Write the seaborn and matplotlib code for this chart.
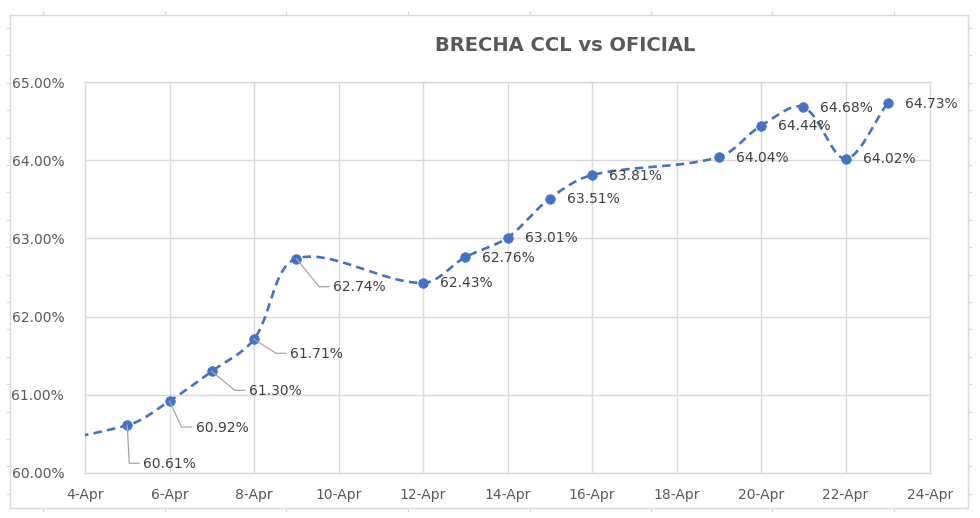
import numpy as np
import pandas as pd
import matplotlib
matplotlib.use("Agg")
import matplotlib.pyplot as plt
import matplotlib.dates as mdates
import seaborn as sns
from matplotlib.lines import Line2D

# ---------------- data ----------------
# first point (1-Apr) lies outside the visible range; the line enters from the left edge
dates = ["2021-04-01", "2021-04-05", "2021-04-06", "2021-04-07", "2021-04-08", "2021-04-09",
         "2021-04-12", "2021-04-13", "2021-04-14", "2021-04-15", "2021-04-16",
         "2021-04-19", "2021-04-20", "2021-04-21", "2021-04-22", "2021-04-23"]
values = [60.20, 60.61, 60.92, 61.30, 61.71, 62.74,
          62.43, 62.76, 63.01, 63.51, 63.81,
          64.04, 64.44, 64.68, 64.02, 64.73]
tick_dates = ["2021-04-04", "2021-04-06", "2021-04-08", "2021-04-10", "2021-04-12", "2021-04-14",
              "2021-04-16", "2021-04-18", "2021-04-20", "2021-04-22", "2021-04-24"]
tick_labels = ["4-Apr", "6-Apr", "8-Apr", "10-Apr", "12-Apr", "14-Apr",
               "16-Apr", "18-Apr", "20-Apr", "22-Apr", "24-Apr"]
y_ticks = [60, 61, 62, 63, 64, 65]
y_tick_labels = ["60.00%", "61.00%", "62.00%", "63.00%", "64.00%", "65.00%"]
title = "BRECHA CCL vs OFICIAL"

# label placement (pixel offsets of label left/center from point; dy positive downward)
label_offsets = {1: (16, 38, True), 2: (26, 26, True), 3: (37, 19, True),
                 4: (36, 14, True), 5: (37, 28, True)}
default_offset = (17, 0, False)

# ---------------- style ----------------
W, H, DPI = 980, 518, 100
LINE = "#4472C4"
GRID = "#D9D9D9"
TICKC = "#595959"
LABC = "#404040"

sns.set_theme(style="white")
plt.rcParams["font.family"] = ["DejaVu Sans"]

fig = plt.figure(figsize=(W / DPI, H / DPI), dpi=DPI)
fig.patch.set_facecolor("white")

# outer chart frame with sheet-grid tick marks
fr = fig.add_axes([10 / W, 10 / H, 958 / W, 493 / H])
fr.set_xlim(10, 968)
fr.set_ylim(508, 15)
fr.set_xticks([43, 165, 286, 408, 530, 651, 772, 894])
fr.set_yticks([28 + 27.4 * k for k in range(18)])
fr.tick_params(which="both", direction="out", length=3, width=0.8, color=GRID,
               top=True, bottom=True, left=True, right=True,
               labelleft=False, labelbottom=False)
for s in fr.spines.values():
    s.set_color(GRID)
    s.set_linewidth(1.0)
fr.set_facecolor("white")

# main plot area
L, R, T, B = 85, 930, 82, 473
ax = fig.add_axes([L / W, (H - B) / H, (R - L) / W, (B - T) / H])
ax.set_facecolor("none")

xnum = mdates.date2num(pd.to_datetime(dates))
yv = np.array(values)
xlim = mdates.date2num(pd.to_datetime(["2021-04-04", "2021-04-24"]))
ax.set_xlim(*xlim)
ax.set_ylim(60, 65)

# Excel-like smoothing in screen-proportional space
sx = (R - L) / (xlim[1] - xlim[0])
sy = (B - T) / 5.0


def excel_smooth(xn, yn, n=50):
    P = np.column_stack([xn * sx, yn * sy])
    out = []
    for i in range(len(P) - 1):
        p0 = P[i - 1] if i > 0 else P[i]
        p1, p2 = P[i], P[i + 1]
        p3 = P[i + 2] if i + 2 < len(P) else P[i + 1]
        d01 = np.linalg.norm(p1 - p0)
        d12 = np.linalg.norm(p2 - p1)
        d23 = np.linalg.norm(p3 - p2)
        c1 = p1 + (p2 - p0) * d12 / (3 * (d01 + d12))
        c2 = p2 - (p3 - p1) * d12 / (3 * (d12 + d23))
        t = np.linspace(0, 1, n)[:, None]
        seg = (1 - t) ** 3 * p1 + 3 * (1 - t) ** 2 * t * c1 + 3 * (1 - t) * t ** 2 * c2 + t ** 3 * p2
        out.append(seg if i == 0 else seg[1:])
    arr = np.vstack(out)
    return arr[:, 0] / sx, arr[:, 1] / sy


smx, smy = excel_smooth(xnum, yv)
smooth_df = pd.DataFrame({"x": smx, "y": smy})
sns.lineplot(data=smooth_df, x="x", y="y", sort=False, estimator=None, ax=ax,
             color=LINE, linewidth=1.9, zorder=3)
ax.lines[-1].set_linestyle((0, (3.2, 2.0)))
ax.lines[-1].set_dash_capstyle("butt")

pts = pd.DataFrame({"x": xnum[1:], "y": yv[1:]})
sns.scatterplot(data=pts, x="x", y="y", ax=ax, s=48, color=LINE, edgecolor=LINE,
                linewidth=0.5, zorder=4, clip_on=False)

# axes styling
ax.set_xticks(mdates.date2num(pd.to_datetime(tick_dates)))
ax.set_xticklabels(tick_labels)
ax.set_yticks(y_ticks)
ax.set_yticklabels(y_tick_labels)
ax.tick_params(axis="both", length=0, labelsize=10, labelcolor=TICKC)
ax.tick_params(axis="x", pad=11)
ax.tick_params(axis="y", pad=15)
ax.grid(True, color=GRID, linewidth=1.0)
ax.set_axisbelow(True)
for s in ax.spines.values():
    s.set_color(GRID)
    s.set_linewidth(1.0)
ax.set_xlabel("")
ax.set_ylabel("")

# data labels with leader lines (pixel space)
fig.canvas.draw()
for i in range(1, len(values)):
    px, py = ax.transData.transform((xnum[i], yv[i]))
    dx, dy, leader = label_offsets.get(i, default_offset)
    lx, ly = px + dx, py - dy
    fig.text(lx / W, (ly - 0.5) / H, f"{values[i]:.2f}%", ha="left", va="center",
             fontsize=10, color=LABC, zorder=6)
    if leader:
        xs = [px, lx - 14, lx - 4]
        ys = [py, ly, ly]
        fig.add_artist(Line2D(xs, ys, transform=None, color="#A6A6A6", linewidth=0.9, zorder=2))

fig.text(565 / W, 1 - 45.5 / H, title, ha="center", va="center", fontsize=14,
         fontweight="bold", color=TICKC)

fig.savefig("out.png", dpi=DPI, facecolor="white")
